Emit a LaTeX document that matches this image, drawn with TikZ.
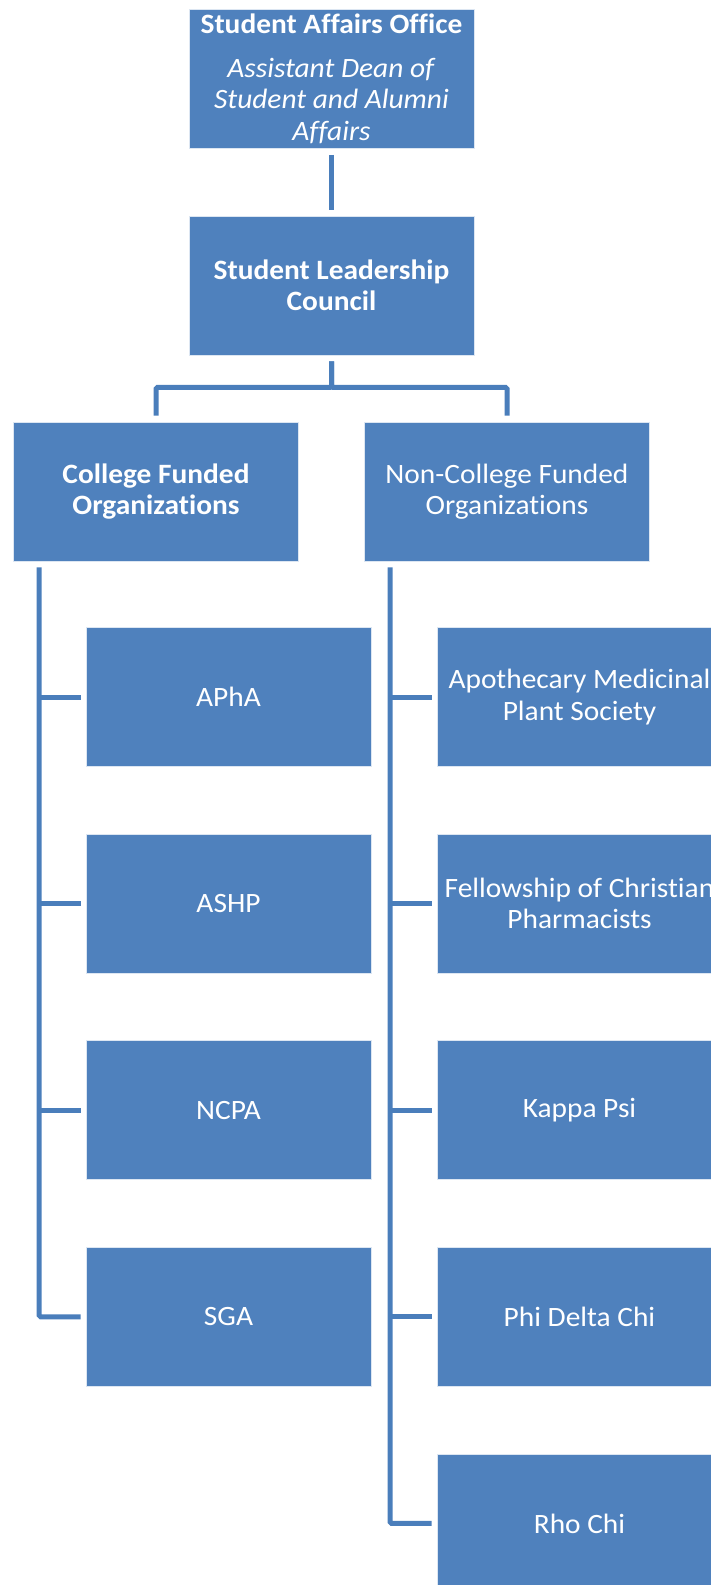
\documentclass[tikz,border=0pt]{standalone}
\usepackage{fontspec}
\setmainfont{Carlito}[FakeStretch=1.05, Ligatures=NoCommon]
\usetikzlibrary{positioning}
\definecolor{boxblue}{HTML}{4F81BD}
\definecolor{lineblue}{HTML}{4A7EBB}

\begin{document}
\begin{tikzpicture}[x=1pt, y=1pt, node distance=67pt,
	b/.style={rectangle, fill=boxblue, draw=white!80!boxblue, line width=0.6pt, minimum width=285pt, minimum height=139pt, align=center, text=white, font=\fontsize{28}{31.5}\selectfont, inner sep=0pt},
	l/.style={draw=lineblue, line width=5pt, rounded corners=1.5pt}]
		\useasboundingbox (0,0) rectangle (711,-1585);

		\node[b] (top) at (331.5,-79) {\textbf{Student Affairs Office}\\[12pt]\textit{Assistant Dean of}\\\textit{Student and Alumni}\\\textit{Affairs}};
		\node[b] (slc) at (331.5,-285.5) {\textbf{Student Leadership}\\\textbf{Council}};
		\node[b] (cfo) at (156,-491.5) {\textbf{College Funded}\\\textbf{Organizations}};
		\node[b] (ncfo) at (507,-491.5) {Non-College Funded\\Organizations};

		\node[b] (apha) at (228.5,-697) {APhA};
		\node[b, below=of apha] (ashp) {ASHP};
		\node[b, below=of ashp] (ncpa) {NCPA};
		\node[b, below=of ncpa] (sga) {SGA};

		\node[b] (amps) at (579.5,-697) {Apothecary Medicinal\\Plant Society};
		\node[b, below=of amps] (fcp) {Fellowship of Christian\\Pharmacists};
		\node[b, below=of fcp] (kpsi) {Kappa Psi};
		\node[b, below=of kpsi] (pdc) {Phi Delta Chi};
		\node[b, below=of pdc] (rho) {Rho Chi};

		\draw[l] ([yshift=-6pt]top.south) -- ([yshift=6pt]slc.south |- slc.north);
		\draw[l] ([yshift=-6pt]slc.south) -- ++(0,-26) -| ([yshift=6pt]cfo.north);
		\draw[l] ([yshift=-6pt]slc.south) -- ++(0,-26) -| ([yshift=6pt]ncfo.north);

		\coordinate (cl) at ([xshift=26pt, yshift=-6pt]cfo.south west);
		\coordinate (cr) at ([xshift=26pt, yshift=-6pt]ncfo.south west);

		\draw[l] (cl) |- ([xshift=-5pt]sga.west);
		\draw[l] (cl |- apha.west) -- ([xshift=-5pt]apha.west);
		\draw[l] (cl |- ashp.west) -- ([xshift=-5pt]ashp.west);
		\draw[l] (cl |- ncpa.west) -- ([xshift=-5pt]ncpa.west);

		\draw[l] (cr) |- ([xshift=-5pt]rho.west);
		\draw[l] (cr |- amps.west) -- ([xshift=-5pt]amps.west);
		\draw[l] (cr |- fcp.west) -- ([xshift=-5pt]fcp.west);
		\draw[l] (cr |- kpsi.west) -- ([xshift=-5pt]kpsi.west);
		\draw[l] (cr |- pdc.west) -- ([xshift=-5pt]pdc.west);
	\end{tikzpicture}
\end{document}
